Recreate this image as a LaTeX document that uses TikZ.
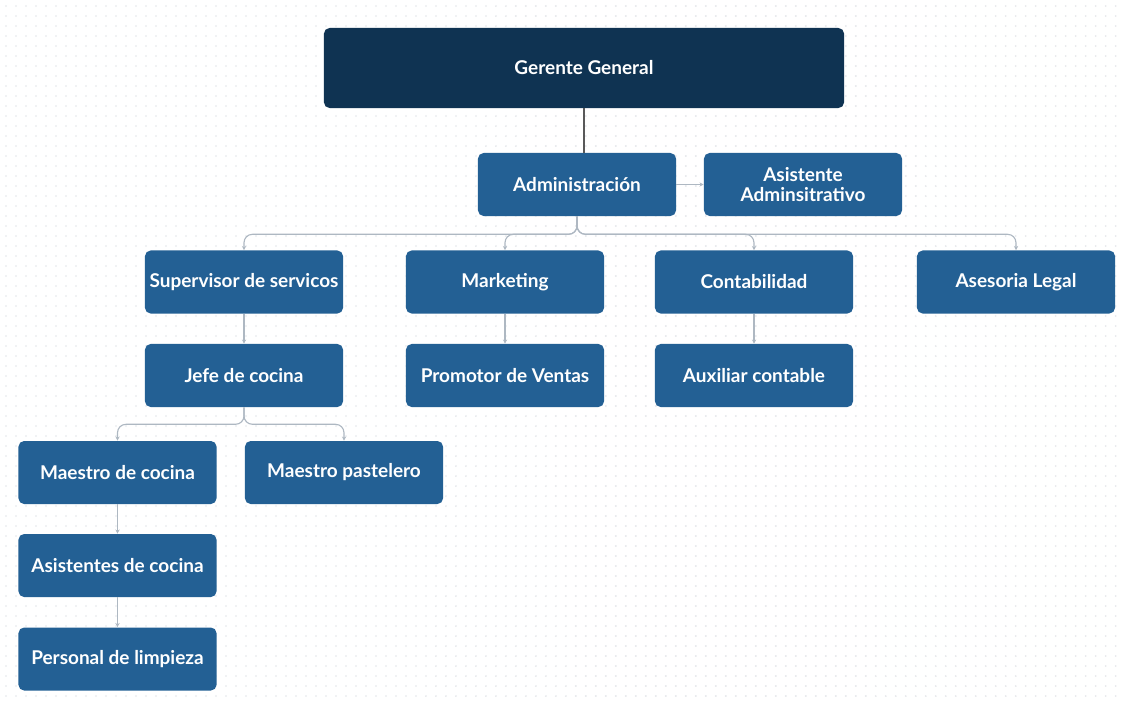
\documentclass[tikz,border=0pt]{standalone}
\usepackage{fontspec}
\setmainfont{Lato}
\usetikzlibrary{arrows.meta}
\definecolor{navy}{HTML}{0F3352}
\definecolor{boxblue}{HTML}{236094}
\definecolor{linkgray}{HTML}{AEB8C2}
\definecolor{dotgray}{HTML}{E2E5E9}

\begin{document}
\begin{tikzpicture}[x=0.025cm, y=-0.025cm,
  box/.style={fill=boxblue, text=white, rounded corners=4pt, minimum width=4.95cm, minimum height=1.575cm,
    inner sep=0pt, align=center, font=\bfseries\fontsize{13.5}{14}\selectfont},
  topbox/.style={box, fill=navy, minimum width=13cm, minimum height=2cm},
  link/.style={draw=linkgray, line width=0.8pt, -{Stealth[length=3pt,width=3pt]}},
  darkline/.style={draw=black!65, line width=1.4pt}]
\useasboundingbox (0,0) rectangle (1129,704);

% Dotted background
\fill[white] (0,0) rectangle (1129,704);
\foreach \y in {6,16,...,700}
  \draw[dotgray, line width=1.3pt, line cap=round, dash pattern=on 0pt off 7.11pt] (6,\y) -- (1125,\y);

% Boxes
\node[topbox] (gerente) at (584,68) {Gerente General};
\node[box] (admin) at (577,184.5) {Administración};
\node[box] (asist) at (803,184.5) {Asistente\\Adminsitrativo};

\node[box] (sup) at (244,282) {Supervisor de servicos};
\node[box] (mkt) at (505,282) {Marketing};
\node[box] (cont) at (754,282) {Contabilidad};
\node[box] (legal) at (1016,282) {Asesoria Legal};

\node[box] (jefe) at (244,375.5) {Jefe de cocina};
\node[box] (promo) at (505,375.5) {Promotor de Ventas};
\node[box] (aux) at (754,375.5) {Auxiliar contable};

\node[box] (mcoc) at (117.5,472.5) {Maestro de cocina};
\node[box] (mpast) at (344,472.5) {Maestro pastelero};
\node[box] (asisc) at (117.5,565.5) {Asistentes de cocina};
\node[box] (limp) at (117.5,659) {Personal de limpieza};

% Connectors
\draw[darkline] (gerente.south) -- (gerente.south |- admin.north);
\draw[link] (admin) -- (asist);
\foreach \d in {sup,mkt,cont,legal}
  \draw[link, rounded corners=6pt] (admin.south) -- ++(0,18) -| (\d.north);
\foreach \d in {mcoc,mpast}
  \draw[link, rounded corners=6pt] (jefe.south) -- ++(0,17) -| (\d.north);
\draw[link] (sup) -- (jefe);
\draw[link] (mkt) -- (promo);
\draw[link] (cont) -- (aux);
\draw[link] (mcoc) -- (asisc);
\draw[link] (asisc) -- (limp);

\end{tikzpicture}
\end{document}
